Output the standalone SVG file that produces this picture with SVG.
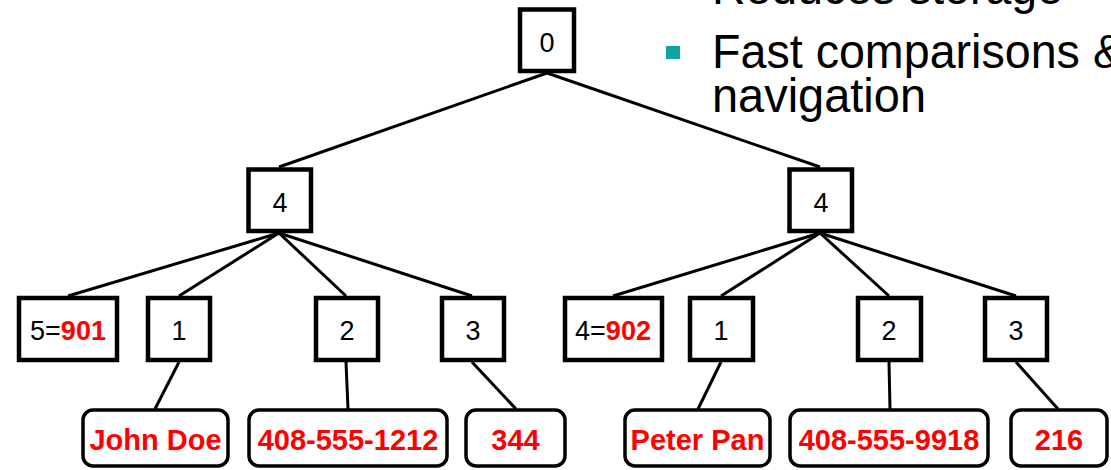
<svg xmlns="http://www.w3.org/2000/svg" width="1111" height="470" viewBox="0 0 1111 470">
  <style>
    .box { fill: #ffffff; stroke: #000000; stroke-width: 4.5; }
    .leaf { fill: #ffffff; stroke: #000000; stroke-width: 3.5; }
    .edge { stroke: #000000; stroke-width: 3; fill: none; }
    .num { font-family: "Liberation Sans", Arial, sans-serif; font-size: 27px; fill: #000000; text-anchor: middle; }
    .val { font-family: "Liberation Sans", Arial, sans-serif; font-size: 29px; font-weight: bold; fill: #ff0000; text-anchor: middle; }
    .red { font-weight: bold; fill: #ff0000; }
    .bullet { font-family: "Liberation Sans", Arial, sans-serif; font-size: 49px; fill: #000000; }
  </style>
  <rect width="1111" height="470" fill="#ffffff"/>

  <!-- bullet text -->
  <g id="notes">
    <text class="bullet" x="712" y="4" textLength="351" lengthAdjust="spacingAndGlyphs">Reduces storage</text>
    <rect x="666" y="46" width="14" height="13" fill="#10a3a3"/>
    <text class="bullet" x="712" y="68" textLength="412" lengthAdjust="spacingAndGlyphs">Fast comparisons &amp;</text>
    <text class="bullet" x="712" y="112" textLength="214" lengthAdjust="spacingAndGlyphs">navigation</text>
  </g>

  <!-- connectors -->
  <g id="connectors">
    <line class="edge" x1="547" y1="73" x2="279" y2="167"/>
    <line class="edge" x1="547" y1="73" x2="820" y2="167"/>

    <line class="edge" x1="279" y1="233" x2="68" y2="296"/>
    <line class="edge" x1="279" y1="233" x2="179" y2="296"/>
    <line class="edge" x1="279" y1="233" x2="346" y2="296"/>
    <line class="edge" x1="279" y1="233" x2="472" y2="296"/>

    <line class="edge" x1="820" y1="233" x2="613" y2="296"/>
    <line class="edge" x1="820" y1="233" x2="721" y2="296"/>
    <line class="edge" x1="820" y1="233" x2="889" y2="296"/>
    <line class="edge" x1="820" y1="233" x2="1016" y2="296"/>

    <line class="edge" x1="179" y1="362" x2="155" y2="409"/>
    <line class="edge" x1="346" y1="362" x2="348" y2="409"/>
    <line class="edge" x1="472" y1="362" x2="516" y2="409"/>
    <line class="edge" x1="721" y1="362" x2="698" y2="409"/>
    <line class="edge" x1="889" y1="362" x2="890" y2="409"/>
    <line class="edge" x1="1016" y1="362" x2="1058" y2="409"/>
  </g>

  <!-- root -->
  <g id="n-root">
    <rect class="box" x="520" y="9.5" width="54" height="61.5"/>
    <text class="num" x="547" y="52">0</text>
  </g>

  <!-- second level -->
  <g id="n-left">
    <rect class="box" x="248.5" y="169.5" width="62.5" height="61.5"/>
    <text class="num" x="280" y="212">4</text>
  </g>
  <g id="n-right">
    <rect class="box" x="789.5" y="169.5" width="62.5" height="61.5"/>
    <text class="num" x="821" y="212">4</text>
  </g>

  <!-- third level, left -->
  <g id="n-l0">
    <rect class="box" x="19" y="298" width="98" height="62"/>
    <text class="num" x="68" y="340">5=<tspan class="red">901</tspan></text>
  </g>
  <g id="n-l1">
    <rect class="box" x="148" y="298" width="62" height="62"/>
    <text class="num" x="179" y="340">1</text>
  </g>
  <g id="n-l2">
    <rect class="box" x="316" y="298" width="62" height="62"/>
    <text class="num" x="347" y="340">2</text>
  </g>
  <g id="n-l3">
    <rect class="box" x="442" y="298" width="62" height="62"/>
    <text class="num" x="473" y="340">3</text>
  </g>

  <!-- third level, right -->
  <g id="n-r0">
    <rect class="box" x="565" y="298" width="97" height="62"/>
    <text class="num" x="613" y="340">4=<tspan class="red">902</tspan></text>
  </g>
  <g id="n-r1">
    <rect class="box" x="690" y="298" width="63" height="62"/>
    <text class="num" x="721" y="340">1</text>
  </g>
  <g id="n-r2">
    <rect class="box" x="858" y="298" width="63" height="62"/>
    <text class="num" x="889" y="340">2</text>
  </g>
  <g id="n-r3">
    <rect class="box" x="985" y="298" width="62" height="62"/>
    <text class="num" x="1016" y="340">3</text>
  </g>

  <!-- values -->
  <g id="v-l1">
    <rect class="leaf" x="83" y="410" width="145" height="56" rx="10"/>
    <text class="val" x="155.5" y="450">John Doe</text>
  </g>
  <g id="v-l2">
    <rect class="leaf" x="249" y="410" width="198" height="56" rx="10"/>
    <text class="val" x="348" y="450">408-555-1212</text>
  </g>
  <g id="v-l3">
    <rect class="leaf" x="466" y="410" width="99" height="56" rx="10"/>
    <text class="val" x="515.5" y="450">344</text>
  </g>
  <g id="v-r1">
    <rect class="leaf" x="625" y="410" width="145" height="56" rx="10"/>
    <text class="val" x="697.5" y="450">Peter Pan</text>
  </g>
  <g id="v-r2">
    <rect class="leaf" x="790" y="410" width="198" height="56" rx="10"/>
    <text class="val" x="889" y="450">408-555-9918</text>
  </g>
  <g id="v-r3">
    <rect class="leaf" x="1011" y="410" width="96" height="56" rx="10"/>
    <text class="val" x="1059" y="450">216</text>
  </g>
</svg>
